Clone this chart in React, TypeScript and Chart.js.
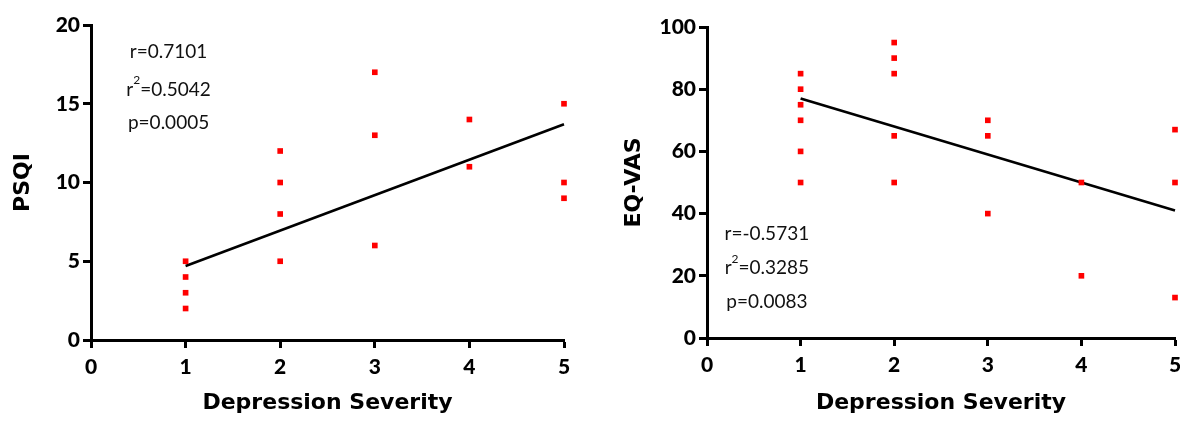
import React, { useEffect, useRef } from "react";
import { Chart, registerables } from "chart.js";

Chart.register(...registerables);

// ---------- data ----------
const xTicks = [0, 1, 2, 3, 4, 5];
const psqiTicks = [0, 5, 10, 15, 20];
const eqTicks = [0, 20, 40, 60, 80, 100];

const psqiX = [1, 1, 1, 1, 2, 2, 2, 2, 3, 3, 3, 4, 4, 5, 5, 5];
const psqiY = [5, 4, 3, 2, 12, 10, 8, 5, 17, 13, 6, 14, 11, 15, 10, 9];
const psqiFitX = [1, 5];
const psqiFitY = [4.7, 13.7];
const psqiStats = ["r=0.7101", "r²=0.5042", "p=0.0005"];

const eqX = [1, 1, 1, 1, 1, 1, 2, 2, 2, 2, 2, 3, 3, 3, 4, 4, 5, 5, 5];
const eqY = [85, 80, 75, 70, 60, 50, 95, 90, 85, 65, 50, 70, 65, 40, 50, 20, 67, 50, 13];
const eqFitX = [1, 5];
const eqFitY = [77, 41];
const eqStats = ["r=-0.5731", "r²=0.3285", "p=0.0083"];

const xTitle = "Depression Severity";

// ---------- styling ----------
const FONT = "Lato, 'Open Sans', 'DejaVu Sans', sans-serif";
const TITLE_FONT = "'DejaVu Sans', Lato, sans-serif";

type Panel = {
  xs: number[];
  ys: number[];
  fitX: number[];
  fitY: number[];
  yTicks: number[];
  yTitle: string;
  stats: string[];
  statX: number;
  statY: number[];
  padTop: number;
  padRight: number;
  yAxisW: number;
  xAxisH: number;
  yTitlePad: number;
};

function statsPlugin(p: Panel) {
  return {
    id: "stats",
    afterDatasetsDraw(chart: any) {
      const ctx = chart.ctx as CanvasRenderingContext2D;
      const xs = chart.scales.x;
      const ys = chart.scales.y;
      const big = `19px ${FONT}`;
      const small = `12px ${FONT}`;
      ctx.save();
      ctx.fillStyle = "#111";
      ctx.textBaseline = "middle";
      ctx.textAlign = "left";
      p.stats.forEach((s, i) => {
        const cx = xs.getPixelForValue(p.statX);
        const cy = ys.getPixelForValue(p.statY[i]);
        const parts = s.split("²");
        if (parts.length === 2) {
          ctx.font = big;
          const w1 = ctx.measureText(parts[0]).width;
          const w3 = ctx.measureText(parts[1]).width;
          ctx.font = small;
          const w2 = ctx.measureText("2").width;
          let x = cx - (w1 + w2 + w3) / 2;
          ctx.font = big;
          ctx.fillText(parts[0], x, cy);
          x += w1;
          ctx.font = small;
          ctx.fillText("2", x, cy - 9);
          x += w2;
          ctx.font = big;
          ctx.fillText(parts[1], x, cy);
        } else {
          ctx.font = big;
          const w = ctx.measureText(s).width;
          ctx.fillText(s, cx - w / 2, cy);
        }
      });
      ctx.restore();
    },
  };
}

function buildConfig(p: Panel): any {
  const yMax = p.yTicks[p.yTicks.length - 1];
  const yStep = p.yTicks[1] - p.yTicks[0];
  return {
    type: "scatter",
    data: {
      datasets: [
        {
          data: p.xs.map((x, i) => ({ x, y: p.ys[i] })),
          pointStyle: "rect",
          pointRadius: 4,
          backgroundColor: "#ff0000",
          borderColor: "#ff0000",
          borderWidth: 0,
          clip: false,
          order: 0,
        },
        {
          data: p.fitX.map((x, i) => ({ x, y: p.fitY[i] })),
          showLine: true,
          borderColor: "#000",
          borderWidth: 2.6,
          pointRadius: 0,
          clip: false,
          order: 1,
        },
      ],
    },
    options: {
      animation: false,
      responsive: false,
      events: [],
      layout: { padding: { left: 0, top: p.padTop, right: p.padRight, bottom: 0 } },
      plugins: { legend: { display: false }, tooltip: { enabled: false } },
      scales: {
        x: {
          type: "linear",
          min: xTicks[0],
          max: xTicks[xTicks.length - 1],
          afterBuildTicks: (s: any) => {
            s.ticks = xTicks.map((v) => ({ value: v }));
          },
          ticks: { font: { family: FONT, size: 21, weight: 900 }, color: "#000", padding: 7 },
          grid: { drawOnChartArea: false, drawTicks: true, tickLength: 8, tickWidth: 3, color: "#000" },
          border: { display: true, width: 3, color: "#000" },
          title: {
            display: true,
            text: xTitle,
            font: { family: TITLE_FONT, size: 22, weight: "bold" },
            color: "#000",
            padding: { top: 0, bottom: 8 },
          },
          afterFit: (s: any) => {
            s.height = p.xAxisH;
            s.paddingLeft = 0;
            s.paddingRight = 0;
          },
        },
        y: {
          type: "linear",
          min: p.yTicks[0],
          max: yMax,
          ticks: { stepSize: yStep, font: { family: FONT, size: 21, weight: 900 }, color: "#000", padding: 3 },
          afterBuildTicks: (s: any) => {
            s.ticks = p.yTicks.map((v) => ({ value: v }));
          },
          grid: { drawOnChartArea: false, drawTicks: true, tickLength: 8, tickWidth: 3, color: "#000" },
          border: { display: true, width: 3, color: "#000" },
          title: {
            display: true,
            text: p.yTitle,
            font: { family: TITLE_FONT, size: 22, weight: "bold" },
            color: "#000",
            padding: { top: p.yTitlePad, bottom: 0 },
          },
          afterFit: (s: any) => {
            s.width = p.yAxisW;
            s.paddingTop = 0;
            s.paddingBottom = 0;
          },
        },
      },
    },
    plugins: [statsPlugin(p)],
  };
}

const leftPanel: Panel = {
  xs: psqiX,
  ys: psqiY,
  fitX: psqiFitX,
  fitY: psqiFitY,
  yTicks: psqiTicks,
  yTitle: "PSQI",
  stats: psqiStats,
  statX: 0.82,
  statY: [18.3, 15.9, 13.8],
  padTop: 25,
  padRight: 26,
  yAxisW: 91,
  xAxisH: 84,
  yTitlePad: 10,
};

const rightPanel: Panel = {
  xs: eqX,
  ys: eqY,
  fitX: eqFitX,
  fitY: eqFitY,
  yTicks: eqTicks,
  yTitle: "EQ-VAS",
  stats: eqStats,
  statX: 0.64,
  statY: [33.4, 22.5, 11.6],
  padTop: 27,
  padRight: 5,
  yAxisW: 117,
  xAxisH: 86,
  yTitlePad: 31,
};

function ChartCanvas({ panel, left }: { panel: Panel; left: number }) {
  const ref = useRef<HTMLCanvasElement | null>(null);
  useEffect(() => {
    if (!ref.current) return;
    const chart = new Chart(ref.current, buildConfig(panel));
    return () => chart.destroy();
  }, [panel]);
  return (
    <canvas
      ref={ref}
      width={590}
      height={424}
      style={{ position: "absolute", left, top: 0, width: 590, height: 424 }}
    />
  );
}

export default function App() {
  return (
    <div
      style={{
        position: "absolute",
        left: 0,
        top: 0,
        width: 1180,
        height: 424,
        background: "#fff",
        overflow: "hidden",
      }}
    >
      <ChartCanvas panel={leftPanel} left={0} />
      <ChartCanvas panel={rightPanel} left={590} />
    </div>
  );
}
